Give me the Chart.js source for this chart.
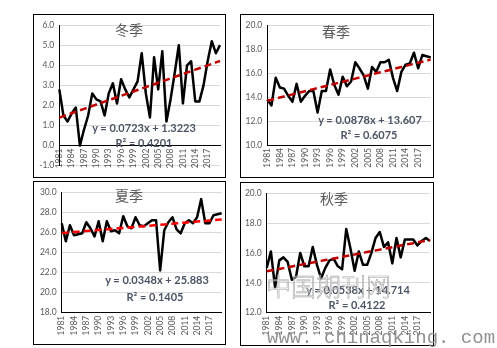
<!DOCTYPE html>
<html>
<head>
<meta charset="utf-8">
<script src="https://cdn.jsdelivr.net/npm/chart.js@4/dist/chart.umd.min.js"></script>
<style>
body { margin: 0; background: #fff; width: 497px; height: 348px; position: relative; overflow: hidden; }
.panel { position: absolute; border: 1px solid #000; box-sizing: border-box; }
.panel canvas { position: absolute; left: 0; top: 0; }
.title { position: absolute; width: 80px; text-align: center; font-family: "Noto Sans CJK SC"; font-size: 14px; line-height: 1; color: #595959; }
.eq { position: absolute; width: 140px; text-align: center; white-space: nowrap; font-family: Lato; font-weight: bold; font-size: 11px; line-height: 1; color: #4a5464; }
.wm1 { position: absolute; left: 266px; top: 273px; font-family: "Noto Sans CJK SC"; font-weight: 300; font-size: 25px; line-height: 1; color: rgba(255,255,255,0.35); -webkit-text-stroke: 0.6px #a6a6a6; }
.wm2 { position: absolute; left: 267px; top: 329px; font-family: "Liberation Mono"; font-size: 19px; line-height: 1; color: #919191; white-space: nowrap; }
</style>
</head>
<body>
<div class="panel" style="left:33px; top:14px; width:193px; height:164px;"><canvas id="winter" width="191" height="162"></canvas></div>
<div class="panel" style="left:240px; top:14px; width:194px; height:164px;"><canvas id="spring" width="192" height="162"></canvas></div>
<div class="panel" style="left:33px; top:181px; width:193px; height:164px;"><canvas id="summer" width="191" height="162"></canvas></div>
<div class="panel" style="left:240px; top:182px; width:194px; height:164px;"><canvas id="autumn" width="192" height="162"></canvas></div>

<div class="title" style="left:89px; top:22px;">冬季</div>
<div class="title" style="left:296px; top:24px;">春季</div>
<div class="title" style="left:89px; top:188px;">夏季</div>
<div class="title" style="left:294px; top:191px;">秋季</div>

<div class="eq" id="eqWinter" style="left:74px; top:122px;"></div>
<div class="eq" id="r2Winter" style="left:74px; top:137px;"></div>
<div class="eq" id="eqSpring" style="left:300px; top:114px;"></div>
<div class="eq" id="r2Spring" style="left:299px; top:129px;"></div>
<div class="eq" id="eqSummer" style="left:87px; top:274px;"></div>
<div class="eq" id="r2Summer" style="left:85px; top:291px;"></div>
<div class="eq" id="eqAutumn" style="left:288px; top:284px;"></div>
<div class="eq" id="r2Autumn" style="left:287px; top:299px;"></div>

<div class="wm1">中国期刊网</div>
<div class="wm2">www. chinaqking. com</div>

<script>
// years 1981-2020
const years = [];
for (let y = 1981; y <= 2020; y++) years.push(String(y));

const winterValues = [2.8, 1.5, 1.2, 1.6, 1.9, 0.0, 0.8, 1.5, 2.6, 2.3,
    2.2, 1.5, 2.6, 3.1, 2.1, 3.3, 2.8, 2.4, 2.8, 3.2,
    4.6, 2.6, 1.4, 4.4, 2.8, 4.7, 1.2, 2.3, 3.6, 5.0,
    2.1, 4.0, 4.2, 2.2, 2.2, 3.0, 4.2, 5.2, 4.6, 5.0];
const springValues = [13.8, 13.3, 15.6, 14.8, 14.7, 14.1, 13.6, 15.1, 13.6, 14.1,
    14.5, 14.5, 12.7, 14.5, 14.5, 16.3, 15.0, 14.2, 15.7, 14.9,
    15.3, 16.9, 16.4, 15.8, 14.7, 16.5, 16.1, 16.9, 16.9, 17.1,
    15.6, 14.5, 16.1, 16.7, 16.8, 17.7, 16.4, 17.5, 17.4, 17.3];
const summerValues = [26.9, 25.1, 26.7, 25.7, 25.8, 25.9, 27.0, 26.4, 25.6, 27.1,
    25.1, 27.1, 26.1, 26.2, 25.9, 27.6, 26.6, 26.4, 27.5, 26.7,
    26.6, 26.9, 27.2, 27.2, 22.2, 26.2, 27.0, 27.5, 26.3, 25.9,
    26.9, 27.2, 26.9, 27.5, 29.3, 26.9, 26.9, 27.7, 27.8, 27.9];
const autumnValues = [15.0, 16.1, 13.7, 15.5, 15.7, 15.4, 14.2, 14.4, 16.0, 15.1,
    15.1, 16.4, 15.2, 14.3, 15.0, 15.5, 15.6, 15.1, 14.9, 17.6,
    16.3, 14.8, 16.1, 15.2, 15.2, 16.0, 17.0, 17.4, 16.4, 16.7,
    15.3, 17.0, 15.7, 16.9, 16.9, 16.9, 16.5, 16.8, 17.0, 16.8];

// trend line coefficients shown on the chart: [slope, intercept, R2]
const winterTrend = [0.0723, 1.3223, '0.4201'];
const springTrend = [0.0878, 13.607, '0.6075'];
const summerTrend = [0.0348, 25.883, '0.1405'];
const autumnTrend = [0.0538, 14.714, '0.4122'];

const tickFont = { family: 'Lato', size: 8.5 };
const tickColor = '#595959';

function makeChart(id, values, trend, trendColor, yMin, yMax, yStep, box) {
    const trendData = years.map((y, i) => trend[0] * (i + 1) + trend[1]);

    return new Chart(document.getElementById(id), {
        type: 'line',
        data: {
            labels: years,
            datasets: [
                {
                    data: values,
                    borderColor: '#000',
                    borderWidth: 2.5,
                    borderJoinStyle: 'round',
                    pointRadius: 0,
                    tension: 0,
                    order: 1
                },
                {
                    data: trendData,
                    borderColor: trendColor,
                    borderWidth: 2.5,
                    borderDash: [7, 4],
                    pointRadius: 0,
                    order: 0
                }
            ]
        },
        options: {
            responsive: false,
            animation: false,
            devicePixelRatio: 1,
            layout: {
                padding: { left: 0, top: box.top, right: box.right, bottom: box.bottom }
            },
            plugins: {
                legend: { display: false },
                tooltip: { enabled: false }
            },
            scales: {
                x: {
                    position: box.xPos,
                    grid: { display: false, drawTicks: false },
                    border: { display: true, color: '#000', width: 1 },
                    ticks: {
                        autoSkip: false,
                        minRotation: 90,
                        maxRotation: 90,
                        padding: 3,
                        font: tickFont,
                        color: tickColor,
                        callback: (v, i) => (i % 3 === 0 && i < 39) ? years[i] : null
                    },
                    afterFit: s => { if (box.xh != null) s.height = box.xh; }
                },
                y: {
                    min: yMin,
                    max: yMax,
                    grid: { color: '#d9d9d9', drawTicks: false },
                    border: { display: true, color: '#000', width: 1 },
                    ticks: {
                        stepSize: yStep,
                        padding: 5,
                        font: tickFont,
                        color: tickColor,
                        callback: v => v.toFixed(1)
                    },
                    afterFit: s => { s.width = box.yw; }
                }
            }
        }
    });
}

function setEquation(eqId, r2Id, trend) {
    document.getElementById(eqId).textContent = 'y = ' + trend[0] + 'x + ' + trend[1];
    document.getElementById(r2Id).textContent = 'R² = ' + trend[2];
}

makeChart('winter', winterValues, winterTrend, '#c00000', -1, 6, 1,
    { top: 7.3, right: 5, bottom: 11.3, yw: 25.3, xh: null, xPos: { y: 0 } });
makeChart('spring', springValues, springTrend, '#c00000', 10, 20, 2,
    { top: 7.3, right: 2.3, bottom: 0, yw: 26.3, xh: 32, xPos: 'bottom' });
makeChart('summer', summerValues, summerTrend, '#ff0000', 18, 30, 2,
    { top: 5.3, right: 3.3, bottom: 0, yw: 27.7, xh: 31.3, xPos: 'bottom' });
makeChart('autumn', autumnValues, autumnTrend, '#c00000', 12, 20, 2,
    { top: 6.3, right: 3, bottom: 0, yw: 25.7, xh: 32.3, xPos: 'bottom' });

setEquation('eqWinter', 'r2Winter', winterTrend);
setEquation('eqSpring', 'r2Spring', springTrend);
setEquation('eqSummer', 'r2Summer', summerTrend);
setEquation('eqAutumn', 'r2Autumn', autumnTrend);
</script>
</body>
</html>
